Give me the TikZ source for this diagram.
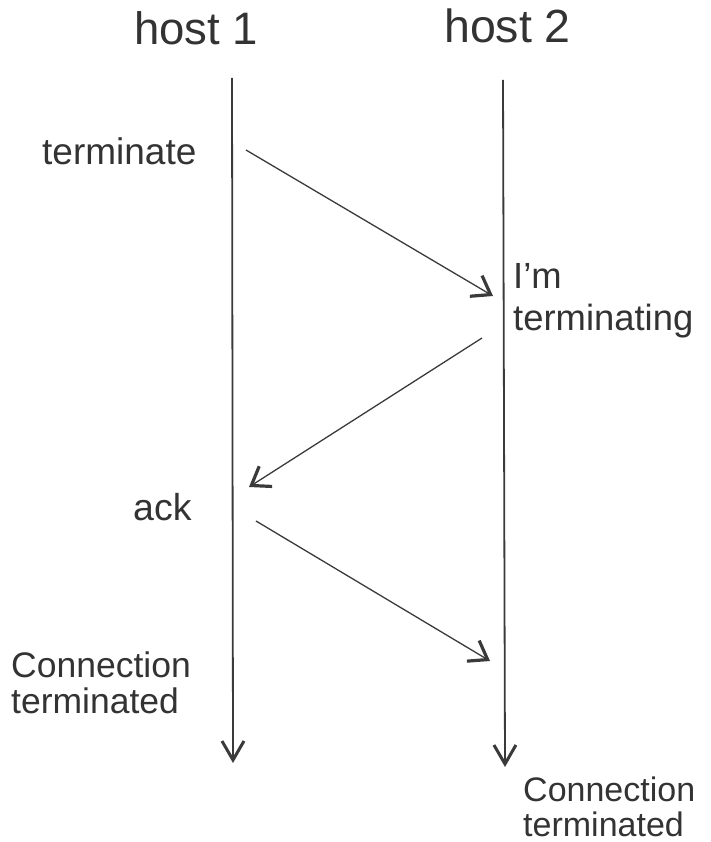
\documentclass[tikz,border=0pt]{standalone}
\usepackage{fontspec}
\setmainfont{Liberation Sans}
\usetikzlibrary{arrows.meta}
\definecolor{ink}{HTML}{333333}
\definecolor{wire}{HTML}{3A3A3A}
\begin{document}
\begin{tikzpicture}[x=1pt,y=-1pt,
  lifeline/.style={draw=wire,line width=1.8pt,
    -{Straight Barb[length=19pt,width=22pt,line width=3pt]}},
  msg/.style={draw=wire,line width=1.3pt,
    -{Straight Barb[length=17pt,width=24pt,line width=3.2pt]}},
  lbl/.style={inner sep=0pt,anchor=base west,text=ink,align=left},
  title/.style={lbl,font=\fontsize{45.5}{48}\selectfont},
  body/.style={lbl,font=\fontsize{35.5}{36}\selectfont}]
\useasboundingbox (0,0) rectangle (710,842);

% host names
\node[title] (h1) at (134,45) {host 1};
\node[title,font=\fontsize{46.5}{48}\selectfont] (h2) at (444,43) {host 2};

% lifelines
\coordinate (l1top) at (232,78);
\coordinate (l1end) at (233,763);
\coordinate (l2top) at (503,80);
\coordinate (l2end) at (505,767);
\draw[lifeline] (l1top) -- (l1end);
\draw[lifeline] (l2top) -- (l2end);

% message endpoints
\coordinate (m1s) at (246,150);
\coordinate (m1e) at (493,296);
\coordinate (m2s) at (482,338);
\coordinate (m2e) at (249,487);
\coordinate (m3s) at (256,521);
\coordinate (m3e) at (490,661);
\draw[msg] (m1s) -- (m1e);
\draw[msg] (m2s) -- (m2e);
\draw[msg] (m3s) -- (m3e);

% event labels (multi-line nodes sit on the baseline of their last line)
\node[body,font=\fontsize{37}{40}\selectfont] (t1) at (42,165) {terminate};
\node[body,font=\fontsize{36.4}{42}\selectfont] (t2) at (513,330) {I’m\\terminating};
\node[body,font=\fontsize{37.5}{40}\selectfont] (t3) at (133,520) {ack};
\node[body] (t4) at (11,713) {Connection\\terminated};
\node[body,font=\fontsize{34}{35}\selectfont] (t5) at (523,836) {Connection\\terminated};
\end{tikzpicture}
\end{document}
